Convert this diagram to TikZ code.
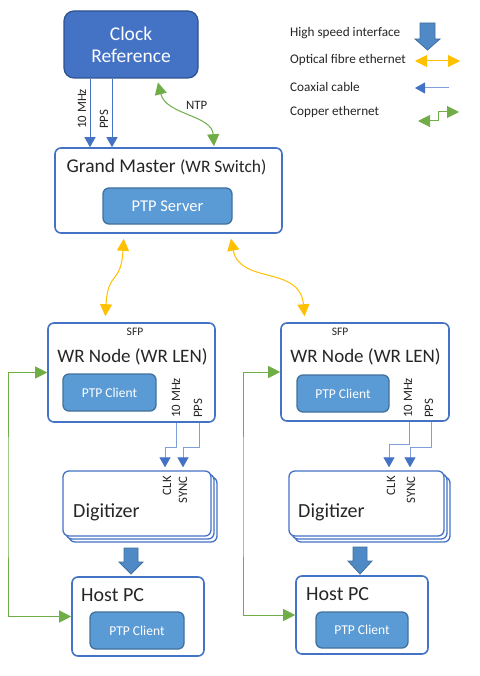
\documentclass[tikz,border=0pt]{standalone}
\usepackage{fontspec}
\setmainfont{Carlito}
\usetikzlibrary{arrows.meta,calc}
\definecolor{wrblue}{HTML}{4472C4}
\definecolor{wrdark}{HTML}{2F528F}
\definecolor{ptpfill}{HTML}{5B9BD5}
\definecolor{ptpedge}{HTML}{41719C}
\definecolor{fibre}{HTML}{FFC000}
\definecolor{copperc}{HTML}{70AD47}
\definecolor{coaxlite}{HTML}{7F9FD8}
\definecolor{hsfill}{HTML}{4F89C6}
\newcommand\fsz[1]{\fontsize{#1}{#1}\selectfont}
\begin{document}
\begin{tikzpicture}[x=1pt,y=-1pt,
  frame/.style={draw=wrblue, line width=1.6pt, rounded corners=6pt, fill=white, inner sep=0pt},
  digframe/.style={frame, line width=1.3pt, minimum height=65pt},
  ptp/.style={draw=ptpedge, line width=1.3pt, fill=ptpfill, rounded corners=6pt, text=white, inner sep=0pt},
  clockbox/.style={draw=wrdark, line width=1.2pt, fill=wrblue, rounded corners=10pt, text=white, align=center, inner sep=0pt},
  lbl/.style={inner sep=0pt, font=\fsz{12.8}, text=black!85},
  vlbl/.style={lbl, rotate=90, anchor=base west},
  title/.style={inner sep=0pt, text=black!85},
  legtext/.style={inner sep=0pt, anchor=base west, font=\fsz{13.2}, text=black!85},
  coax/.style={draw=wrblue, line width=1pt, -{Triangle[width=11pt,length=10pt]}},
  coaxl/.style={draw=coaxlite, line width=1pt, -{Triangle[width=11pt,length=10pt,color=wrblue]}},
  fibreA/.style={draw=fibre, line width=1pt, {Triangle[width=12pt,length=12pt]}-{Triangle[width=12pt,length=12pt]}},
  copperA/.style={draw=copperc, line width=1pt, {Triangle[width=12pt,length=12pt]}-{Triangle[width=12pt,length=12pt]}},
  hs/.style={fill=hsfill, draw=ptpedge, line width=0.8pt, line join=miter}
]
\fill[white] (0,0) rectangle (479,676);
\useasboundingbox (0,0) rectangle (479,676);

% Clock reference
\node[clockbox, minimum width=134pt, minimum height=67pt, font=\fontsize{19.5}{22}\selectfont] (clock) at (131,44.5) {Clock\\Reference};

% Grand master
\node[frame, minimum width=227pt, minimum height=85pt] (gm) at (168.5,190.5) {};
\node[title, anchor=base, font=\fsz{19.5}] (gmtitle) at (166.5,173) {Grand Master {\fsz{17.5}(WR Switch)}};
\node[ptp, minimum width=129pt, minimum height=36pt, font=\fsz{16.5}] (srv) at (167.5,206) {PTP Server};

% clock -> GM
\draw[coax] (clock.south -| 90,0) -- (gm.north -| 90,0);
\draw[coax] (clock.south -| 112,0) -- (gm.north -| 112,0);
\node[vlbl] (c10) at (86,129) {10 MHz};
\node[vlbl] (cpps) at (108,129) {PPS};
\draw[copperA, shorten <=4pt, shorten >=1pt] (clock.south -| 157,0) .. controls (166,115) and (212,115) .. (gm.north -| 214,0);
\node[lbl, anchor=base west] (ntp) at (186,110) {NTP};

% WR nodes
\node[frame, minimum width=167pt, minimum height=99pt] (wrL) at (131.5,372.5) {};
\node[title, anchor=base, font=\fsz{19}] (wrLt) at (132.5,362) {WR Node (WR LEN)};
\node[lbl, anchor=base, font=\fsz{11.5}] (sfpL) at (135,335) {SFP};
\node[ptp, minimum width=93pt, minimum height=37pt, font=\fsz{13.5}] (pcL) at (109.5,392.5) {PTP Client};
\node[vlbl] (w10L) at (180,418) {10 MHz};
\node[vlbl] (wppsL) at (202,418) {PPS};

\node[frame, minimum width=168pt, minimum height=98pt] (wrR) at (365,372) {};
\node[title, anchor=base, font=\fsz{19}] (wrRt) at (365.5,362) {WR Node (WR LEN)};
\node[lbl, anchor=base, font=\fsz{11.5}] (sfpR) at (340,335) {SFP};
\node[ptp, minimum width=92pt, minimum height=37pt, font=\fsz{13.5}] (pcR) at (343,393.5) {PTP Client};
\node[vlbl] (w10R) at (412,418) {10 MHz};
\node[vlbl] (wppsR) at (433,418) {PPS};

% fibre GM -> WR nodes
\draw[fibreA, shorten <=5pt, shorten >=6pt] (gm.south -| 124,0) .. controls (121,285) and (108,270) .. (wrL.north -| 105,0);
\draw[fibreA, shorten <=5pt, shorten >=6pt] (gm.south -| 230,0) .. controls (240,285) and (300,265) .. (wrR.north -| 305,0);

% Digitizers
\node[digframe, minimum width=148pt] (digL3) at (143,509.5) {};
\node[digframe, minimum width=148pt] (digL2) at (140,506.5) {};
\node[digframe, minimum width=148pt] (digL) at (137,503.5) {};
\node[title, anchor=base west, font=\fsz{20}] (digLt) at (73,517) {Digitizer};
\node[lbl, rotate=90, anchor=base east] (clkL) at (171,476) {CLK};
\node[lbl, rotate=90, anchor=base east] (syncL) at (187,476) {SYNC};

\node[digframe, minimum width=155pt] (digR3) at (372.5,509.5) {};
\node[digframe, minimum width=155pt] (digR2) at (369.5,506.5) {};
\node[digframe, minimum width=155pt] (digR) at (366.5,503.5) {};
\node[title, anchor=base west, font=\fsz{20}] (digRt) at (298,517) {Digitizer};
\node[lbl, rotate=90, anchor=base east] (clkR) at (395,476) {CLK};
\node[lbl, rotate=90, anchor=base east] (syncR) at (415,476) {SYNC};

% coax WR -> digitizer
\draw[coaxl, shorten >=3pt] (wrL.south -| 176,0) |- (165,447) -- (digL.north -| 165,0);
\draw[coaxl, shorten >=3pt] (wrL.south -| 199,0) |- (183,447) -- (digL.north -| 183,0);
\draw[coaxl, shorten >=3pt] (wrR.south -| 409,0) |- (389,444) -- (digR.north -| 389,0);
\draw[coaxl, shorten >=3pt] (wrR.south -| 431,0) |- (410,447) -- (digR.north -| 410,0);

% Host PCs
\node[frame, minimum width=132pt, minimum height=79pt] (hostL) at (138,616.5) {};
\node[title, anchor=base west, font=\fsz{20}] (hostLt) at (81,601) {Host PC};
\node[ptp, minimum width=94pt, minimum height=37pt, font=\fsz{13.5}] (hcL) at (137,630.5) {PTP Client};

\node[frame, minimum width=132pt, minimum height=78pt] (hostR) at (362,615) {};
\node[title, anchor=base west, font=\fsz{20}] (hostRt) at (306,600) {Host PC};
\node[ptp, minimum width=92pt, minimum height=36pt, font=\fsz{13.5}] (hcR) at (362,630) {PTP Client};

% high speed arrows digitizer -> host
\draw[hs, shift={(131,548)}] (-7,0) -- (7,0) -- (7,14) -- (12,14) -- (0,26) -- (-12,14) -- (-7,14) -- cycle;
\draw[hs, shift={(360,547)}] (-7,0) -- (7,0) -- (7,14) -- (12,14) -- (0,27) -- (-12,14) -- (-7,14) -- cycle;

% copper WR node <-> host PC
\draw[copperA] (wrL.west) -| (8,500) |- (hostL.west);
\draw[copperA] (wrR.west) -| (243,500) |- (hostR.west);

% Legend
\node[legtext] (lg1) at (290,37) {High speed interface};
\node[legtext] (lg2) at (290,64) {Optical fibre ethernet};
\node[legtext] (lg3) at (290,92) {Coaxial cable};
\node[legtext] (lg4) at (290,116) {Copper ethernet};
\draw[hs, shift={(427.5,23)}] (-7.5,0) -- (7.5,0) -- (7.5,16) -- (12.5,16) -- (0,27) -- (-12.5,16) -- (-7.5,16) -- cycle;
\coordinate (f1) at (415,61); \coordinate (f2) at (460,61);
\draw[fibreA] (f1) -- (f2);
\coordinate (x1) at (449,88); \coordinate (x2) at (415,88);
\draw[coaxl] (x1) -- (x2);
\coordinate (g1) at (418,121); \coordinate (g2) at (459,112);
\draw[copperA] (g1) -- (438,121) -- (438,112) -- (g2);
\end{tikzpicture}
\end{document}
